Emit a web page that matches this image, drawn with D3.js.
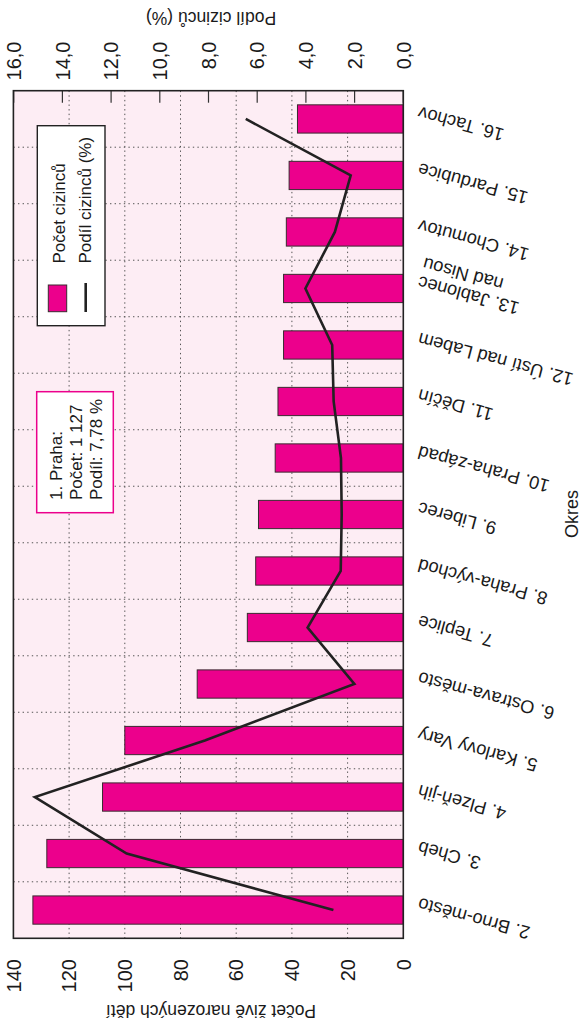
<!DOCTYPE html>
<html><head><meta charset="utf-8">
<script src="https://cdn.jsdelivr.net/npm/d3@7"></script>
<style>
body{margin:0;background:#fff}
text{font-family:"Liberation Sans",Arial,Helvetica,sans-serif;fill:#1a1a1a}
</style>
</head><body><svg id="c" width="582" height="1021"></svg>
<script>
const categories = ["2. Brno-město","3. Cheb","4. Plzeň-jih","5. Karlovy Vary","6. Ostrava-město","7. Teplice","8. Praha-východ","9. Liberec","10. Praha-západ","11. Děčín","12. Ústí nad Labem","13. Jablonec|nad Nisou","14. Chomutov","15. Pardubice","16. Tachov"];
const counts = [133,128,108,100,74,56,53,52,46,45,43,43,42,41,38];
const shares = [2.87,11.36,15.13,8.15,2.01,3.93,2.57,2.53,2.56,2.86,2.92,4.02,2.81,2.16,6.47];
const countTicks = [0,20,40,60,80,100,120,140];
const shareTicks = [0,2,4,6,8,10,12,14,16];
const legendLabels = ["Počet cizinců","Podíl cizinců (%)"];
const noteLines = ["1. Praha:","Počet: 1 127","Podíl: 7,78 %"];

const L=13.4, R=403.3, T=90.7, B=938.3;
const svg = d3.select("#c");
const xC = d3.scaleLinear().domain([0,140]).range([R,L]);
const xS = d3.scaleLinear().domain([0,16]).range([R,L+0.3]);
const yBand = d3.scaleBand().domain(categories).range([B,T]).paddingInner(0).paddingOuter(0);
const yBar = d3.scaleBand().domain(categories).range([B,T]).paddingInner(0.5).paddingOuter(0.25);
const fmt = v => d3.format(".1f")(v).replace(".",",");

svg.append("rect").attr("x",L).attr("y",T).attr("width",R-L).attr("height",B-T).attr("fill","#fdedf4");

// grid
const grid = svg.append("g").attr("stroke","#555").attr("stroke-width",1).attr("stroke-dasharray","1.4,3.2");
grid.selectAll("line.v").data(countTicks.slice(1,-1)).enter().append("line")
  .attr("x1",d=>xC(d)).attr("x2",d=>xC(d)).attr("y1",T).attr("y2",B);
grid.selectAll("line.h").data(categories.slice(1)).enter().append("line")
  .attr("x1",L).attr("x2",R).attr("y1",d=>yBand(d)+yBand.bandwidth()).attr("y2",d=>yBand(d)+yBand.bandwidth());

// top ticks (share axis)
svg.append("g").selectAll("line").data(shareTicks).enter().append("line")
  .attr("x1",d=>xS(d)).attr("x2",d=>xS(d)).attr("y1",T).attr("y2",T+12)
  .attr("stroke","#333").attr("stroke-width",1.2);

// bars
svg.append("g").selectAll("rect").data(categories).enter().append("rect")
  .attr("x",(d,i)=>xC(counts[i])).attr("width",(d,i)=>xC(0)-xC(counts[i]))
  .attr("y",d=>yBar(d)).attr("height",yBar.bandwidth())
  .attr("fill","#ec008c").attr("stroke","#3a2a30").attr("stroke-width",1);

// line
const line = d3.line().x(d=>xS(d.v)).y(d=>yBand(d.c)+yBand.bandwidth()/2);
svg.append("path").datum(categories.map((c,i)=>({c,v:shares[i]})))
  .attr("d",line).attr("fill","none").attr("stroke","#222").attr("stroke-width",2.6).attr("stroke-linejoin","miter");

// border
svg.append("rect").attr("x",L).attr("y",T).attr("width",R-L).attr("height",B-T)
  .attr("fill","none").attr("stroke","#222").attr("stroke-width",1.6);

// bottom tick labels (count)
svg.append("g").selectAll("text").data(countTicks).enter().append("text")
  .attr("transform",d=>`translate(${xC(d)},959) rotate(-90)`)
  .attr("text-anchor","end").attr("dy","0.36em").attr("font-size",20).text(d=>d);
// top tick labels (share)
svg.append("g").selectAll("text").data(shareTicks).enter().append("text")
  .attr("transform",d=>`translate(${xS(d)},41.5) rotate(-90)`)
  .attr("text-anchor","end").attr("dy","0.36em").attr("font-size",20).text(d=>fmt(d));

// axis titles (upside down)
svg.append("text").attr("transform",`translate(211,12) rotate(180)`).attr("text-anchor","middle")
  .attr("font-size",17.5).text("Podíl cizinců (%)");
svg.append("text").attr("transform",`translate(211,1005) rotate(180)`).attr("text-anchor","middle")
  .attr("font-size",17.5).text("Počet živě narozených dětí");
svg.append("text").attr("transform",`translate(578,514) rotate(-90)`).attr("text-anchor","middle")
  .attr("font-size",18).text("Okres");

// category labels
const cl = svg.append("g").selectAll("text").data(categories).enter().append("text")
  .attr("transform",d=>`translate(420,${yBand(d)+yBand.bandwidth()/2-12.5}) rotate(-165)`)
  .attr("text-anchor","end").attr("font-size",18.3);
cl.each(function(d){
  const parts=d.split("|");
  const t=d3.select(this);
  parts.forEach((p,k)=>t.append("tspan").attr("x",0).attr("dy",k?"1.05em":0).text(p));
});

// legend
const lg = svg.append("g");
lg.append("rect").attr("x",37.3).attr("y",125.7).attr("width",67.7).attr("height",200)
  .attr("fill","#fff").attr("stroke","#222").attr("stroke-width",1.4);
lg.append("rect").attr("x",48.3).attr("y",285).attr("width",18.4).attr("height",26.7)
  .attr("fill","#ec008c").attr("stroke","#3a2a30").attr("stroke-width",1);
lg.append("line").attr("x1",85.7).attr("x2",85.7).attr("y1",283).attr("y2",312)
  .attr("stroke","#222").attr("stroke-width",2.6);
lg.selectAll("text").data(legendLabels).enter().append("text")
  .attr("transform",(d,i)=>`translate(${65+i*26},263.5) rotate(-90)`)
  .attr("font-size",17).text(d=>d);

// annotation
const an = svg.append("g");
an.append("rect").attr("x",36.7).attr("y",391.7).attr("width",76.6).attr("height",121)
  .attr("fill","#fff").attr("stroke","#ec008c").attr("stroke-width",1.5);
an.selectAll("text").data(noteLines).enter().append("text")
  .attr("transform",(d,i)=>`translate(${62+i*20},500) rotate(-90)`)
  .attr("font-size",17).text(d=>d);
</script></body></html>
